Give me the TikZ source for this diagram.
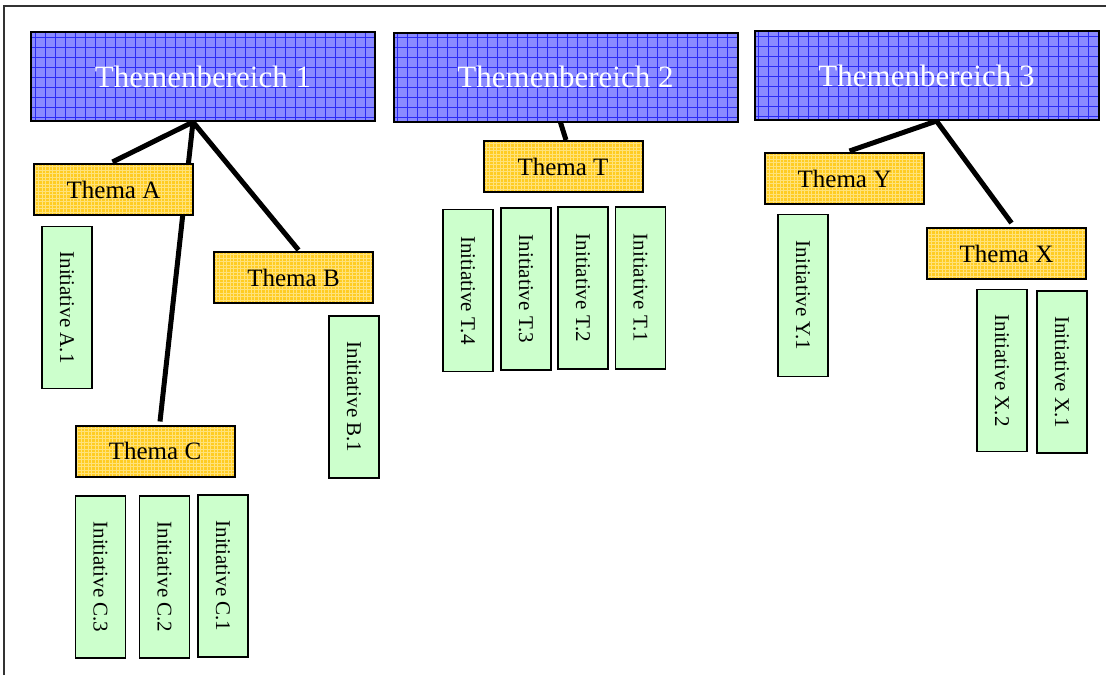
\documentclass[tikz,border=0pt]{standalone}
\usepackage{fontspec}
\setmainfont{Liberation Serif}
\definecolor{tbfill}{HTML}{8A8AFF}
\definecolor{tbgrid}{HTML}{2A2AF5}
\definecolor{themafill}{HTML}{FFCC22}
\definecolor{themagrid}{HTML}{FFE27A}
\definecolor{initfill}{HTML}{CCFFCC}
\usetikzlibrary{calc, backgrounds}

\begin{document}
\begin{tikzpicture}[x=1pt, y=-1pt,
  bereich/.style={draw=black, line width=2pt, fill=tbfill,
                  minimum width=344pt, minimum height=89pt, inner sep=0pt,
                  text=white, font=\fontsize{31}{36}\selectfont,
                  path picture={\draw[tbgrid, line width=0.6pt]
                    (path picture bounding box.south west) grid[step=10pt]
                    (path picture bounding box.north east);}},
  thema/.style={draw=black, line width=2pt, fill=themafill,
                minimum width=159pt, minimum height=51pt, inner sep=0pt,
                font=\fontsize{25}{30}\selectfont,
                path picture={\draw[themagrid, line width=0.4pt]
                  (path picture bounding box.south west) grid[step=3.5pt]
                  (path picture bounding box.north east);}},
  init/.style={draw=black, line width=1.8pt, fill=initfill, rotate=-90,
               minimum width=162pt, minimum height=50pt, inner sep=0pt,
               font=\fontsize{21}{25}\selectfont},
  ast/.style={line width=5pt, black},
  frame/.style={line width=1.5pt, black!80},
]
\useasboundingbox (0,0) rectangle (1106,675);
\draw[frame] (4,675) -- (4,6) -- (1106,6);

% Themenbereiche
\node[bereich] (tb1) at (203,76.5) {Themenbereich 1};
\node[bereich] (tb2) at (565.5,77) {Themenbereich 2};
\node[bereich] (tb3) at (926.5,75.5) {Themenbereich 3};

% Themen
\node[thema] (thA) at (113.5,189.5) {Thema A};
\node[thema] (thB) at (293.5,277.5) {Thema B};
\node[thema] (thC) at (155,451) {Thema C};
\node[thema] (thT) at (563,166.5) {Thema T};
\node[thema] (thY) at (844.5,178.5) {Thema Y};
\node[thema] (thX) at (1006.5,253.5) {Thema X};

% Initiativen
\node[init] (iA1) at (67,307.5) {Initiative A.1};
\node[init] (iB1) at (354,397) {Initiative B.1};
\node[init] (iC3) at (100.5,577) {Initiative C.3};
\node[init] (iC2) at (164.5,577) {Initiative C.2};
\node[init] (iC1) at (223,576) {Initiative C.1};
\node[init] (iT4) at (468,290.5) {Initiative T.4};
\node[init] (iT3) at (526,289) {Initiative T.3};
\node[init] (iT2) at (583,288) {Initiative T.2};
\node[init] (iT1) at (640.5,288) {Initiative T.1};
\node[init] (iY1) at (803,295.5) {Initiative Y.1};
\node[init] (iX2) at (1002,370.5) {Initiative X.2};
\node[init] (iX1) at (1062,372) {Initiative X.1};

% Verbindungen hinter den Kaesten
\begin{scope}[on background layer]
\draw[ast] ($(tb1.south)+(-10,0)$) -- ($(thA.north)+(-1,-1)$);
\draw[ast] ($(tb1.south)+(-10,0)$) -- ($(thC.north)+(5,-3)$);
\draw[ast] ($(tb1.south)+(-10,0)$) -- ($(thB.north)+(5,-1)$);
\draw[ast] ($(tb2.south)+(-5,0)$) -- ($(thT.north)+(3,0)$);
\draw[ast] ($(tb3.south)+(10,0)$) -- ($(thY.north)+(5,-1)$);
\draw[ast] ($(tb3.south)+(10,0)$) -- ($(thX.north)+(5,-4)$);
\end{scope}
\end{tikzpicture}
\end{document}
